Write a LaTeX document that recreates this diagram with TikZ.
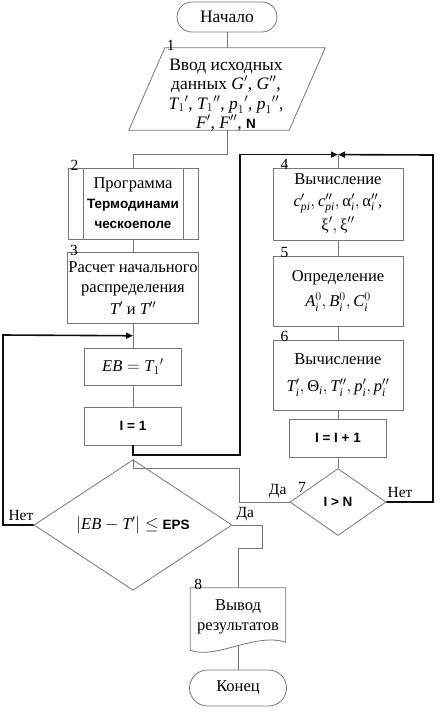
\documentclass[tikz,border=0pt]{standalone}
\usepackage{amsmath,amssymb}
\usepackage{fontspec}
\setmainfont{Liberation Serif}
\setsansfont{Liberation Sans}
\usepackage{tikz}
\usetikzlibrary{calc,arrows.meta,shapes.geometric}
\definecolor{fcLine}{RGB}{118,118,118}
\definecolor{fcFlow}{RGB}{15,15,15}
\newcommand{\bsf}[1]{{\sffamily\bfseries\fontsize{13.5}{17}\selectfont #1}}
\newcommand{\vr}[1]{\textit{#1}}

\begin{document}
\begin{tikzpicture}[x=1pt,y=-1pt,
    every node/.style={font=\fontsize{16.5}{20}\selectfont},
    box/.style={draw=fcLine, line width=0.8pt, minimum width=130, minimum height=71, align=center, inner sep=1pt},
    smallbox/.style={box, minimum width=97, minimum height=38},
    term/.style={draw=fcLine, line width=0.8pt, minimum width=100, minimum height=30, rounded corners=15},
    dia/.style={diamond, draw=fcLine, line width=0.8pt, inner sep=0pt},
    conn/.style={draw=fcLine, line width=0.8pt},
    flow/.style={draw=fcFlow, line width=1.6pt, -{Triangle[length=7pt,width=6pt]}},
    numlbl/.style={inner sep=0pt, font=\fontsize{15.5}{15}\selectfont},
    lbl/.style={inner sep=0pt, font=\fontsize{15.5}{15}\selectfont}]
    \useasboundingbox (0,0) rectangle (442,724);

    % left column
    \node[term, font=\fontsize{17.5}{20}\selectfont] (start) at (227,17) {Начало};
    \node[minimum width=120, minimum height=82, inner sep=0pt] (in1) at (227,89) {};
    \draw[conn] ($(in1.north west)+(-2,0)$) -- ($(in1.north east)+(38,0)$)
        -- ($(in1.south east)+(2,0)$) -- ($(in1.south west)+(-38,0)$) -- cycle;
    \node[align=center, inner sep=0pt, font=\fontsize{17.5}{19.5}\selectfont] (in1txt) at (226,95)
        {Ввод исходных\\данных $\vr{G}'$, $\vr{G}''$,\\$\vr{T}_1{}'$, $\vr{T}_1{}''$, $\vr{p}_1{}'$, $\vr{p}_1{}''$,\\$\vr{F}'$, $\vr{F}''$, \bsf{N}};
    \node[box] (b2) at (133,203.5) {Программа\\\bsf{Термодинами}\\\bsf{ческоеполе}};
    \draw[conn] ($(b2.north west)+(16,0)$) -- ($(b2.south west)+(16,0)$);
    \draw[conn] ($(b2.north east)+(-15,0)$) -- ($(b2.south east)+(-15,0)$);
    \node[box] (b3) at (133,288) {Расчет начального\\распределения\\[2pt]$\vr{T}'$ и $\vr{T}''$};
    \node[smallbox, minimum height=37] (eb) at (133,366.5) {$\vr{EB} = \vr{T}_1{}'$};
    \node[smallbox] (i1) at (133,426) {\bsf{I = 1}};
    \node[dia, minimum width=198, minimum height=91] (d1) at (133,525) {$|\vr{EB} - \vr{T}'| \leq$ \bsf{EPS}};
    \node[align=center, minimum width=95, minimum height=58, inner sep=0pt] (out) at (238,617)
        {Вывод\\результатов};
    \draw[conn] (out.north west) -- (out.north east) -- ($(out.south east)+(0,-4)$)
        .. controls ($(out.south)+(17,-14)$) and ($(out.south)+(-23,14)$) .. ($(out.south west)+(0,4)$) -- cycle;
    \node[term, minimum width=97, minimum height=36, rounded corners=18] (stop) at (238,688) {Конец};

    % right column
    \node[box, minimum height=72] (b4) at (338,204)
        {Вычисление\\[2pt]$\vr{c}'_{\vr{pi}}, \vr{c}''_{\vr{pi}}, \text{α}'_{\vr{i}}, \text{α}''_{\vr{i}}$,\\[3pt]$\text{ξ}', \text{ξ}''$};
    \node[box, minimum height=70] (b5) at (338,291) {Определение\\[5pt]$\vr{A}^0_{\vr{i}}, \vr{B}^0_{\vr{i}}, \vr{C}^0_{\vr{i}}$};
    \node[box, minimum height=70] (b6) at (338,375) {Вычисление\\[7pt]$\vr{T}'_{\vr{i}}, \text{Θ}_{\vr{i}}, \vr{T}''_{\vr{i}}, \vr{p}'_{\vr{i}}, \vr{p}''_{\vr{i}}$};
    \node[smallbox] (ii) at (338,438) {\bsf{I = I + 1}};
    \node[dia, minimum width=96, minimum height=67] (d7) at (338,502) {\bsf{I > N}};

    \coordinate (j1) at ($(b3.south)!0.5!(eb.north)$);
    \coordinate (j2) at ($(b4.north)+(0,-13)$);

    % numbers
    \node[numlbl] (n1) at ($(in1.north west)+(4,-2)$) {1};
    \node[numlbl] (n2) at ($(b2.north west)+(7,-2)$) {2};
    \node[numlbl] (n3) at ($(b3.north west)+(7,-2)$) {3};
    \node[numlbl] (n4) at ($(b4.north west)+(12,-3)$) {4};
    \node[numlbl] (n5) at ($(b5.north west)+(12,-3)$) {5};
    \node[numlbl] (n6) at ($(b6.north west)+(12,-3)$) {6};
    \node[numlbl] (n7) at (302,487) {7};
    \node[numlbl] (n8) at ($(out.north west)+(8,-3)$) {8};

    % connectors
    \draw[conn] (start.south) -- (start.south |- in1.north);
    \draw[conn] (in1.south) |- ($(b2.north)+(0,-13)$) -- (b2.north);
    \draw[conn] (b2) -- (b3);
    \draw[conn] (b3) -- (eb);
    \draw[conn] (eb) -- (i1);
    \draw[conn] (j2) -- (b4.north);
    \draw[conn] (b4) -- (b5);
    \draw[conn] (b5) -- (b6);
    \draw[conn] (b6) -- (ii);
    \draw[conn] (ii) -- (d7);
    \draw[conn] (d7.west) -| (239,468) -| (d1.north);
    \draw[conn] (d1.east) -| (262,548) -| (out.north);
    \draw[conn] (out.south) -- (stop.north);
    \draw[flow] (i1.south) |- (240,455) |- (j2);
    \draw[flow] (d7.east) -| (433,155) -- (j2);
    \draw[flow] (d1.west) -| (3,335) -- (j1);

    % branch labels
    \node[lbl, anchor=south east] (d7yes) at ($(d7.west)+(-3,-4)$) {Да};
    \node[lbl, anchor=south west] (d7no) at ($(d7.east)+(1,-4)$) {Нет};
    \node[lbl, anchor=south east] (d1no) at ($(d1.west)+(0,-4)$) {Нет};
    \node[lbl, anchor=south west] (d1yes) at ($(d1.east)+(4,-4)$) {Да};
\end{tikzpicture}
\end{document}
